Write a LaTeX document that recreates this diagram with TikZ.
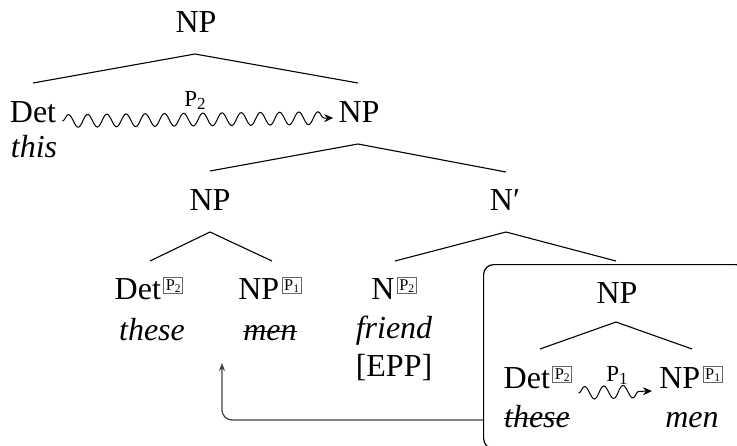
\documentclass[tikz,border=0pt]{standalone}
\usepackage{fontspec}
\setmainfont{Liberation Serif}
\usetikzlibrary{calc,decorations.pathmorphing,arrows.meta}
\newcommand\tagb[1]{\hspace{1.2pt}\raisebox{4.4pt}{\setlength\fboxsep{0.7pt}\setlength\fboxrule{0.5pt}\fcolorbox{black!60}{white}{\makebox[7.6pt]{\raisebox{0pt}[5.2pt][0.7pt]{\fontsize{8.2}{9}\selectfont P\raisebox{-1pt}{\fontsize{5.8}{6}\selectfont #1}}}}}}
\newcommand\psub[1]{P\raisebox{-1.8pt}{\fontsize{8.5}{9}\selectfont #1}}
\newcommand\strk[1]{\setbox0\hbox{#1}\rlap{\rule[0.24em]{\wd0}{0.6pt}}\box0}
\tikzset{
  lab/.style={anchor=base,inner sep=0pt,font=\fontsize{16}{19}\selectfont},
  sm/.style={anchor=base,inner sep=0pt,font=\fontsize{11.5}{13}\selectfont},
  edge/.style={line width=0.55pt},
  wavy/.style={decorate,decoration={snake,amplitude=3.2pt,segment length=9.6pt,post length=2.5pt},line width=0.5pt,-{Stealth[length=4.5pt,width=4pt]}},
  mv/.style={line width=0.6pt,draw=black!75,rounded corners=5pt,-{Stealth[length=4pt,width=3pt]}},
  frame/.style={draw,line width=0.6pt,rounded corners=5pt,anchor=north west,inner sep=0pt}
}
\begin{document}
\begin{tikzpicture}[x=0.5pt,y=-0.5pt]
\useasboundingbox (0,0) rectangle (737,445);
\clip (0,0) rectangle (737,445);
\node[frame,minimum width=131pt,minimum height=92pt] (bx) at (483,264) {};
% nodes
\node[lab] (np0) at (196,32) {NP};
\node[lab] (det1) at (33,122) {Det};
\node[lab] (this1) at (34,157) {\itshape this};
\node[lab] (np1) at (359,122) {NP};
\node[sm] (p2a) at (195,106) {\psub{2}};
\node[lab] (np2) at (210,210) {NP};
\node[lab] (nbar) at (505,210) {N′};
\node[lab] (det3) at (149,299) {Det\tagb{2}};
\node[lab] (these3) at (152,340) {\itshape these};
\node[lab] (np3) at (270,299) {NP\tagb{1}};
\node[lab] (men3) at (270,340) {\itshape\strk{men}};
\node[lab] (n3) at (394,299) {N\tagb{2}};
\node[lab] (friend3) at (394,338) {\itshape friend};
\node[lab] (epp3) at (394,376) {[EPP]};
\node[lab] (np4) at (617,303) {NP};
\node[lab] (det5) at (538,388) {Det\tagb{2}};
\node[lab] (these5) at (537,427) {\itshape\strk{these}};
\node[lab] (np5) at (691,388) {NP\tagb{1}};
\node[lab] (men5) at (692,427) {\itshape men};
\node[sm] (p1a) at (617,381) {\psub{1}};
% tree edges
\draw[edge] ($(det1.base)+(0,-39)$) -- ($(np0.base)+(-1,22)$) -- ($(np1.base)+(-1,-39)$);
\draw[edge] ($(np2.base)+(0,-39)$) -- ($(np1.base)+(-1,22)$) -- ($(nbar.base)+(1,-38)$);
\draw[edge] ($(det3.base)+(1,-38)$) -- ($(np2.base)+(0,22)$) -- ($(np3.base)+(2,-38)$);
\draw[edge] ($(n3.base)+(1,-38)$) -- ($(nbar.base)+(1,22)$) -- ($(np4.base)+(-1,-42)$);
\draw[edge] ($(det5.base)+(2,-39)$) -- ($(np4.base)+(-1,19)$) -- ($(np5.base)+(1,-39)$);
% wavy arrows
\draw[wavy] ($(det1.base east)+(6,-1)$) -- ($(np1.base west)+(-5,-4)$);
\draw[wavy] ($(det5.base east)+(6,5)$) -- ($(np5.base west)+(-7,3)$);
% movement arrow
\coordinate (mvy) at (0,420);
\coordinate (mvt) at (222,363);
\draw[mv] (bx.west |- mvy) -| (mvt);
\end{tikzpicture}
\end{document}
